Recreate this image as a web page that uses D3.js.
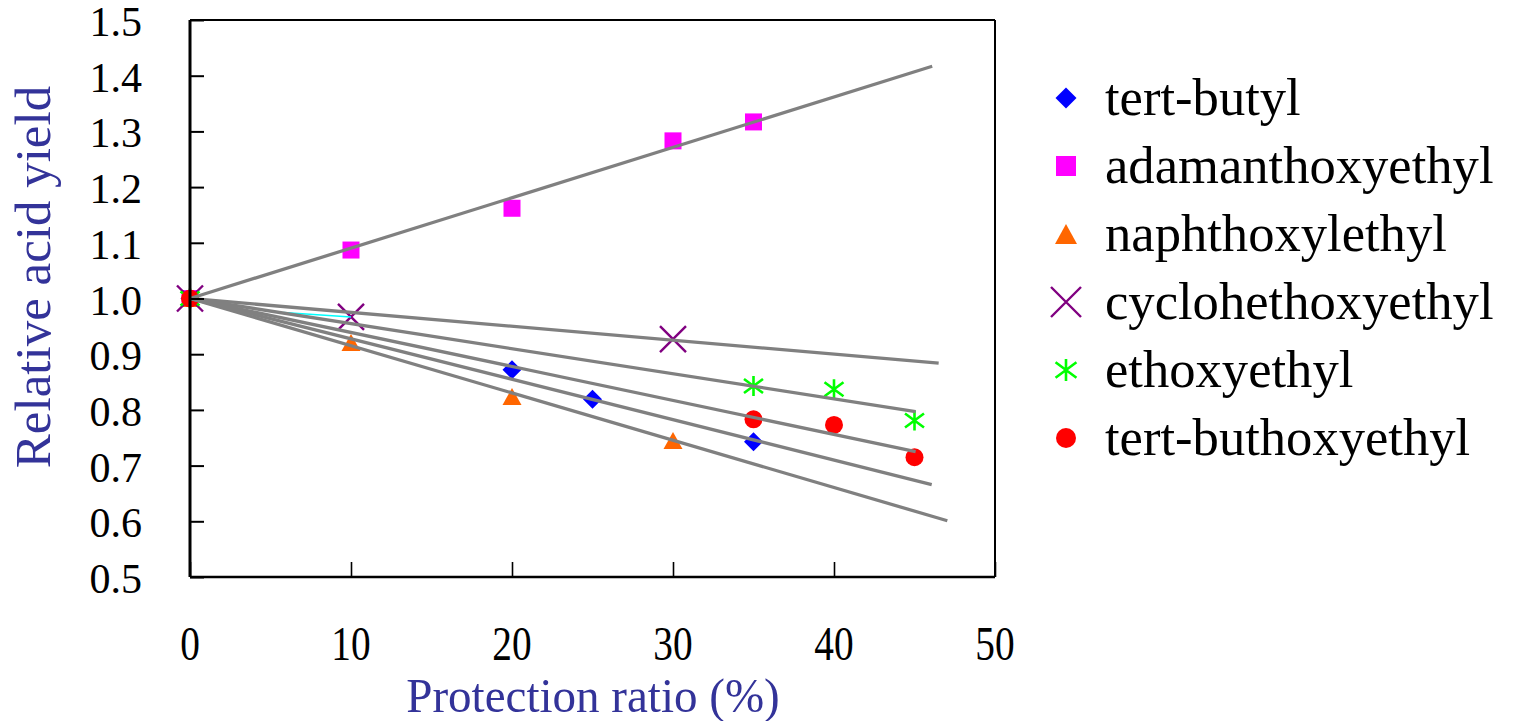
<!DOCTYPE html>
<html>
<head>
<meta charset="utf-8">
<script src="https://cdn.jsdelivr.net/npm/d3@7"></script>
<style>
  html, body { margin: 0; padding: 0; background: #fff; }
  svg { display: block; }
  text { font-family: "Liberation Serif", "Times New Roman", serif; }
</style>
</head>
<body>
<svg id="chart" width="1516" height="721"></svg>
<script>
// ---- data ----
const seriesNames = ["tert-butyl", "adamanthoxyethyl", "naphthoxylethyl", "cyclohethoxyethyl", "ethoxyethyl", "tert-buthoxyethyl"];
const seriesColors = ["#0000FF", "#FF00FF", "#FF6600", "#800080", "#00FF00", "#FF0000"];
const seriesMarkers = ["diamond", "square", "triangle", "cross", "asterisk", "circle"];

const tertButylX = [0, 20, 25, 35];
const tertButylY = [1.0, 0.872, 0.819, 0.743];
const adamanthX = [0, 10, 20, 30, 35];
const adamanthY = [1.0, 1.087, 1.162, 1.283, 1.317];
const naphthX = [0, 10, 20, 30];
const naphthY = [1.0, 0.921, 0.824, 0.745];
const cycloX = [0, 10, 30];
const cycloY = [1.0, 0.967, 0.927];
const ethoxyX = [0, 35, 40, 45];
const ethoxyY = [1.0, 0.843, 0.837, 0.781];
const tertButhoxyX = [0, 35, 40, 45];
const tertButhoxyY = [1.0, 0.783, 0.773, 0.715];

// trend line end points (all start at 0, 1.0)
const trendEndX = [46.07, 46.1, 47.04, 46.5, 45.07, 45.07];
const trendEndY = [0.666, 1.417, 0.601, 0.884, 0.797, 0.725];

// short cyan segment visible near x = 6..10
const cyanX = [5.8, 10];
const cyanY = [0.975, 0.967];

const xTickValues = [0, 10, 20, 30, 40, 50];
const yTickValues = [0.5, 0.6, 0.7, 0.8, 0.9, 1.0, 1.1, 1.2, 1.3, 1.4, 1.5];
const xTitle = "Protection ratio (%)";
const yTitle = "Relative acid yield";

// ---- build ----
const seriesX = [tertButylX, adamanthX, naphthX, cycloX, ethoxyX, tertButhoxyX];
const seriesY = [tertButylY, adamanthY, naphthY, cycloY, ethoxyY, tertButhoxyY];

const svg = d3.select("#chart");
const x = d3.scaleLinear().domain([0, 50]).range([190, 995]);
const y = d3.scaleLinear().domain([0.5, 1.5]).range([577, 20]);

function drawMarker(g, type, color, s) {
  const h = s / 2;
  if (type === "diamond") {
    g.append("path").attr("d", `M0,${-h}L${h},0L0,${h}L${-h},0Z`).attr("fill", color);
  } else if (type === "square") {
    g.append("rect").attr("x", -h).attr("y", -h).attr("width", s).attr("height", s).attr("fill", color);
  } else if (type === "triangle") {
    const th = s * 0.9;
    g.append("path").attr("d", `M0,${-th / 2}L${h},${th / 2}L${-h},${th / 2}Z`).attr("fill", color);
  } else if (type === "circle") {
    g.append("circle").attr("r", h).attr("fill", color);
  } else if (type === "cross") {
    g.append("path").attr("d", `M${-h},${-h}L${h},${h}M${h},${-h}L${-h},${h}`)
      .attr("stroke", color).attr("stroke-width", 2.4).attr("fill", "none");
  } else if (type === "asterisk") {
    const dx = h * 0.95, dy = h * 0.7;
    g.append("path").attr("d", `M0,${-h}L0,${h}M${-dx},${-dy}L${dx},${dy}M${dx},${-dy}L${-dx},${dy}`)
      .attr("stroke", color).attr("stroke-width", 2.6).attr("fill", "none");
  }
}

const plotSizes = { diamond: 19, square: 17, triangle: 19, cross: 26, asterisk: 20, circle: 18 };
const legendSizes = { diamond: 21, square: 20, triangle: 22, cross: 30, asterisk: 22, circle: 20 };

// markers
seriesNames.forEach((name, i) => {
  const g = svg.append("g").attr("class", "series");
  seriesX[i].forEach((xv, j) => {
    const m = g.append("g").attr("transform", `translate(${x(xv)},${y(seriesY[i][j])})`);
    drawMarker(m, seriesMarkers[i], seriesColors[i], plotSizes[seriesMarkers[i]]);
  });
});

// cyan segment
svg.append("line")
  .attr("x1", x(cyanX[0])).attr("y1", y(cyanY[0]))
  .attr("x2", x(cyanX[1])).attr("y2", y(cyanY[1]))
  .attr("stroke", "#00FFFF").attr("stroke-width", 1.5);

// trend lines
seriesNames.forEach((name, i) => {
  svg.append("line")
    .attr("x1", x(0)).attr("y1", y(1.0))
    .attr("x2", x(trendEndX[i])).attr("y2", y(trendEndY[i]))
    .attr("stroke", "#808080").attr("stroke-width", 3.3);
});

// frame
svg.append("line").attr("x1", x(0)).attr("x2", x(50)).attr("y1", y(1.5)).attr("y2", y(1.5))
  .attr("stroke", "#000").attr("stroke-width", 2);
svg.append("line").attr("x1", x(50)).attr("x2", x(50)).attr("y1", y(1.5)).attr("y2", y(0.5))
  .attr("stroke", "#000").attr("stroke-width", 2);

// y axis: ticks inward
const yAxis = d3.axisRight(y).tickValues(yTickValues).tickSize(14).tickFormat("");
const gy = svg.append("g").attr("transform", `translate(${x(0)},0)`).call(yAxis);
gy.select(".domain").attr("stroke", "#000").attr("stroke-width", 3).attr("d", `M0,${y(1.5)}V${y(0.5)}`);
gy.selectAll(".tick line").attr("stroke", "#000").attr("stroke-width", 2);

// x axis: ticks upward (inward)
const xAxis = d3.axisTop(x).tickValues(xTickValues).tickSize(15).tickFormat("");
const gx = svg.append("g").attr("transform", `translate(0,${y(0.5)})`).call(xAxis);
gx.select(".domain").attr("stroke", "#000").attr("stroke-width", 2.5).attr("d", `M${x(0)},0H${x(50)}`);
gx.selectAll(".tick line").attr("stroke", "#000").attr("stroke-width", 1.6);

// y tick labels
svg.append("g").selectAll("text").data(yTickValues).join("text")
  .attr("x", 142).attr("y", d => y(d) + 16)
  .attr("text-anchor", "end").attr("font-size", 42).attr("fill", "#000")
  .text(d => d3.format(".1f")(d));

// x tick labels (tall, narrow)
svg.append("g").selectAll("text").data(xTickValues).join("text")
  .attr("transform", d => `translate(${x(d)},660) scale(0.82,1)`)
  .attr("text-anchor", "middle").attr("font-size", 48).attr("fill", "#000")
  .text(d => d);

// axis titles
svg.append("text").attr("transform", "translate(593,712) scale(0.96,1)").attr("text-anchor", "middle")
  .attr("font-size", 49).attr("fill", "#333399")
  .text(xTitle);
svg.append("text").attr("transform", "translate(50,277) rotate(-90)").attr("text-anchor", "middle")
  .attr("font-size", 51).attr("fill", "#333399").text(yTitle);

// legend
const lg = svg.append("g");
seriesNames.forEach((name, i) => {
  const cy = 98 + i * 68;
  const m = lg.append("g").attr("transform", `translate(1066,${cy})`);
  drawMarker(m, seriesMarkers[i], seriesColors[i], legendSizes[seriesMarkers[i]]);
  lg.append("text").attr("x", 1105).attr("y", cy + 17).attr("font-size", 52.6).attr("fill", "#000").text(name);
});
</script>
</body>
</html>
